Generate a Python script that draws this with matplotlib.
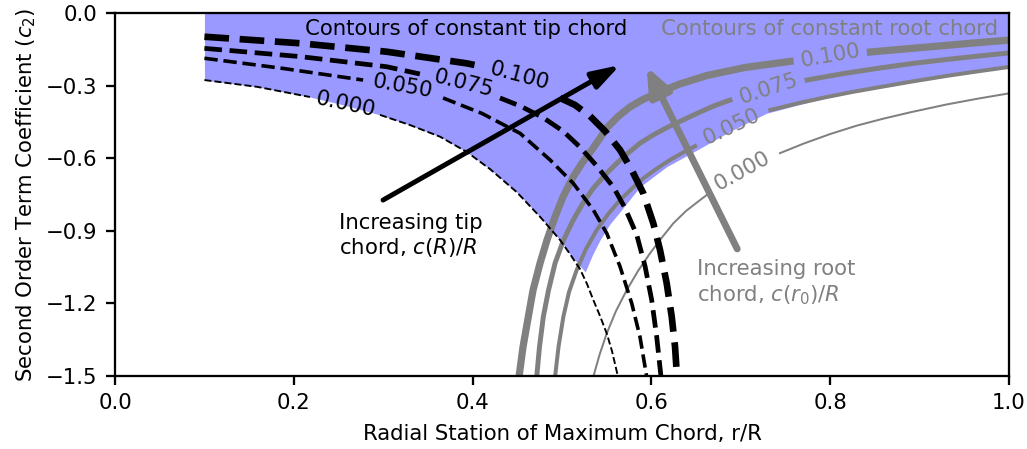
import matplotlib.pyplot as plt

plt.rcParams['font.size'] = 11.2
plt.rcParams['axes.linewidth'] = 1.2
plt.rcParams['xtick.major.size'] = 4.7
plt.rcParams['ytick.major.size'] = 4.7
plt.rcParams['xtick.major.width'] = 1.2
plt.rcParams['ytick.major.width'] = 1.2
plt.rcParams['xtick.major.pad'] = 4.5
plt.rcParams['ytick.major.pad'] = 4.5

# --- contours of constant tip chord (black dashed) ---
# each curve is broken where its inline label sits
tip0_xa = [0.100, 0.159, 0.218]
tip0_ya = [-0.277, -0.305, -0.347]
tip0_xb = [0.2964, 0.330, 0.3635, 0.3934, 0.4195, 0.4493, 0.4754, 0.4978, 0.5089, 0.5201,
           0.528, 0.535, 0.5425, 0.550, 0.5559, 0.5626]
tip0_yb = [-0.421, -0.463, -0.511, -0.574, -0.645, -0.740, -0.842, -0.938, -0.996, -1.058,
           -1.120, -1.186, -1.252, -1.324, -1.397, -1.503]

tip050_xa = [0.100, 0.188, 0.2775]
tip050_ya = [-0.187, -0.229, -0.277]
tip050_xb = [0.3669, 0.4105, 0.4306, 0.453, 0.4866, 0.5126, 0.535, 0.550, 0.5649, 0.578, 0.5872, 0.5947]
tip050_yb = [-0.351, -0.415, -0.454, -0.497, -0.607, -0.704, -0.814, -0.910, -1.048, -1.200, -1.338, -1.503]

tip075_xa = [0.100, 0.207, 0.304, 0.341]
tip075_ya = [-0.146, -0.180, -0.222, -0.252]
tip075_xb = [0.4306, 0.453, 0.4787, 0.5011, 0.5201, 0.5388, 0.5574, 0.5705, 0.5836, 0.5928,
             0.6003, 0.6059, 0.6107]
tip075_yb = [-0.351, -0.384, -0.432, -0.488, -0.554, -0.632, -0.719, -0.806, -0.917, -1.045,
             -1.186, -1.338, -1.503]

tip100_xa = [0.100, 0.207, 0.304, 0.3934, 0.408]
tip100_ya = [-0.098, -0.125, -0.160, -0.208, -0.219]
tip100_xb = [0.4978, 0.5145, 0.5313, 0.5481, 0.5649, 0.578, 0.5909, 0.6021, 0.6096, 0.6171,
             0.6227, 0.6264, 0.6286]
tip100_yb = [-0.351, -0.380, -0.426, -0.488, -0.566, -0.649, -0.745, -0.869, -0.979, -1.117,
             -1.255, -1.379, -1.503]

tip_labels = ['0.000', '0.050', '0.075', '0.100']
tip_label_x = [0.258, 0.322, 0.390, 0.453]
tip_label_y = [-0.378, -0.305, -0.292, -0.262]
tip_label_rot = [-12, -10, -14, -15]

# --- contours of constant root chord (grey solid) ---
root0_xa = [0.535, 0.5419, 0.550, 0.5604, 0.5724, 0.585, 0.5984, 0.6113, 0.6245, 0.6387, 0.6544, 0.6633]
root0_ya = [-1.503, -1.413, -1.324, -1.231, -1.145, -1.066, -0.993, -0.930, -0.869, -0.818, -0.773, -0.748]
root0_xb = [0.7438, 0.770, 0.800, 0.830, 0.860, 0.890, 0.930, 0.965, 1.000]
root0_yb = [-0.579, -0.540, -0.500, -0.465, -0.436, -0.410, -0.378, -0.354, -0.332]

root050_xa = [0.4922, 0.4961, 0.5015, 0.5078, 0.5164, 0.5268, 0.5388, 0.5515, 0.5649, 0.5783,
              0.5909, 0.6051, 0.6208, 0.6365, 0.6488]
root050_ya = [-1.503, -1.379, -1.255, -1.153, -1.062, -0.975, -0.897, -0.831, -0.773, -0.725,
              -0.683, -0.645, -0.607, -0.574, -0.550]
root050_xb = [0.733, 0.765, 0.795, 0.825, 0.8557, 0.890, 0.930, 0.965, 1.000]
root050_yb = [-0.401, -0.372, -0.348, -0.326, -0.306, -0.284, -0.260, -0.241, -0.223]

root075_xa = [0.4717, 0.4748, 0.4791, 0.4849, 0.4922, 0.5017, 0.5126, 0.5235, 0.535, 0.5481,
              0.5612, 0.5738, 0.5872, 0.6029, 0.6186, 0.6365, 0.6544, 0.6711, 0.6879]
root075_ya = [-1.503, -1.379, -1.255, -1.145, -1.034, -0.938, -0.855, -0.785, -0.724, -0.669,
              -0.621, -0.579, -0.538, -0.502, -0.471, -0.440, -0.409, -0.382, -0.360]
root075_xb = [0.774, 0.815, 0.856, 0.893, 0.930, 0.965, 1.000]
root075_yb = [-0.277, -0.250, -0.227, -0.208, -0.192, -0.178, -0.165]

root100_xa = [0.4519, 0.4564, 0.4623, 0.4676, 0.4754, 0.4832, 0.4922, 0.5011, 0.5123, 0.5224,
              0.5332, 0.5414, 0.550, 0.5626, 0.5761, 0.5906, 0.6063, 0.632, 0.6622, 0.7047, 0.755]
root100_ya = [-1.503, -1.379, -1.255, -1.145, -1.034, -0.938, -0.842, -0.760, -0.678, -0.620,
              -0.566, -0.523, -0.475, -0.428, -0.388, -0.357, -0.331, -0.293, -0.258, -0.225, -0.200]
root100_xb = [0.845, 0.885, 0.920, 0.960, 1.000]
root100_yb = [-0.161, -0.148, -0.137, -0.124, -0.112]

root_labels = ['0.000', '0.050', '0.075', '0.100']
root_label_x = [0.702, 0.690, 0.731, 0.800]
root_label_y = [-0.655, -0.468, -0.314, -0.178]
root_label_rot = [29, 25, 18, 10]

# --- shaded feasible region: lower edge ---
fill_x = [0.100, 0.159, 0.218, 0.258, 0.2964, 0.330, 0.3635, 0.3934, 0.4195, 0.4493, 0.4754,
          0.4978, 0.5089, 0.5201, 0.526, 0.534, 0.5425, 0.553, 0.5649, 0.5872, 0.6171, 0.6544,
          0.690, 0.729, 0.795, 0.8557, 0.930, 1.000]
fill_lo = [-0.277, -0.305, -0.347, -0.382, -0.421, -0.463, -0.511, -0.574, -0.645, -0.740, -0.842,
           -0.938, -0.996, -1.045, -1.07, -1.00, -0.938, -0.875, -0.821, -0.718, -0.635, -0.559,
           -0.485, -0.414, -0.350, -0.306, -0.262, -0.225]

grey = '#808080'

fig = plt.figure(figsize=(1027 / 137, 449 / 137), dpi=137)
ax = fig.add_axes([0.112, 0.1626, 0.8705, 0.8084])

ax.fill_between(fill_x, fill_lo, 0, color='#9999ff', lw=0, zorder=1)

tip_curves = [(tip0_xa, tip0_ya, tip0_xb, tip0_yb),
              (tip050_xa, tip050_ya, tip050_xb, tip050_yb),
              (tip075_xa, tip075_ya, tip075_xb, tip075_yb),
              (tip100_xa, tip100_ya, tip100_xb, tip100_yb)]
tip_lw = [1.0, 1.9, 2.5, 3.5]
for (xa, ya, xb, yb), lw in zip(tip_curves, tip_lw):
    ax.plot(xa, ya, 'k--', lw=lw, zorder=3)
    ax.plot(xb, yb, 'k--', lw=lw, zorder=3)
for lab, x, y, r in zip(tip_labels, tip_label_x, tip_label_y, tip_label_rot):
    ax.text(x, y, lab, color='k', rotation=r, ha='center', va='center', zorder=4)

root_curves = [(root0_xa, root0_ya, root0_xb, root0_yb),
               (root050_xa, root050_ya, root050_xb, root050_yb),
               (root075_xa, root075_ya, root075_xb, root075_yb),
               (root100_xa, root100_ya, root100_xb, root100_yb)]
root_lw = [1.05, 2.1, 2.6, 3.8]
for (xa, ya, xb, yb), lw in zip(root_curves, root_lw):
    ax.plot(xa, ya, '-', color=grey, lw=lw, zorder=2)
    ax.plot(xb, yb, '-', color=grey, lw=lw, zorder=2)
for lab, x, y, r in zip(root_labels, root_label_x, root_label_y, root_label_rot):
    ax.text(x, y, lab, color=grey, rotation=r, ha='center', va='center', zorder=4)

# arrows and annotations
ax.annotate('', xy=(0.565, -0.215), xytext=(0.2998, -0.773),
            arrowprops=dict(arrowstyle='-|>,head_length=1.1,head_width=0.35', lw=2.6,
                            color='k', shrinkA=0, shrinkB=0), zorder=5)
ax.annotate('', xy=(0.5947, -0.222), xytext=(0.696, -0.975),
            arrowprops=dict(arrowstyle='-|>,head_length=1.1,head_width=0.45', lw=3.6,
                            color=grey, shrinkA=0, shrinkB=0), zorder=5)

ax.text(0.2506, -0.921, 'Increasing tip\nchord, $c(R)/R$', ha='left', va='center')
ax.text(0.651, -1.116, 'Increasing root\nchord, $c(r_0)/R$', ha='left', va='center', color=grey)
ax.text(0.3926, -0.068, 'Contours of constant tip chord', ha='center', va='center')
ax.text(0.799, -0.068, 'Contours of constant root chord', ha='center', va='center', color=grey)

ax.set_xlim(0, 1)
ax.set_ylim(-1.5, 0)
ax.set_yticks([0.0, -0.3, -0.6, -0.9, -1.2, -1.5])
ax.set_xlabel('Radial Station of Maximum Chord, r/R', labelpad=5.5)
ax.set_ylabel('Second Order Term Coefficient ($c_2$)')

fig.savefig('out.png', dpi=137)
